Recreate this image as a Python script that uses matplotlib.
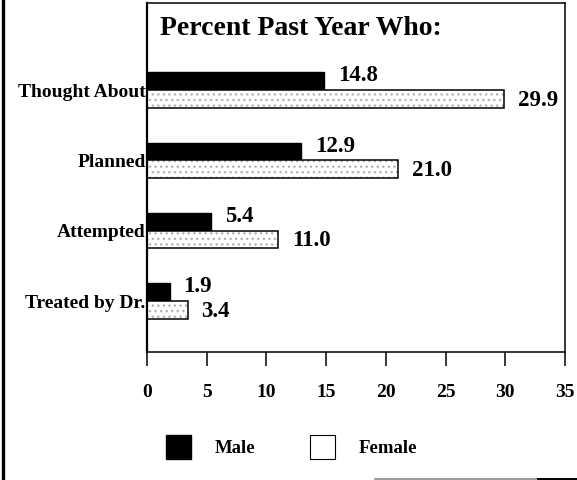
import matplotlib
matplotlib.use("Agg")
import matplotlib.pyplot as plt
from matplotlib.patches import Patch
from matplotlib.lines import Line2D

# data
categories = ["Thought About", "Planned", "Attempted", "Treated by Dr."]
male = [14.8, 12.9, 5.4, 1.9]
female = [29.9, 21.0, 11.0, 3.4]
xticks = [0, 5, 10, 15, 20, 25, 30, 35]

plt.rcParams['font.family'] = ['Liberation Serif', 'DejaVu Serif']
plt.rcParams['font.weight'] = 'bold'

fig = plt.figure(figsize=(5.77, 4.80), dpi=100)
ax = fig.add_axes([147/577, 128/480, 418/577, 349/480])

pos = list(range(len(categories)))[::-1]   # top category first
h = 0.25

ax.barh(pos, male, height=h, align='edge', color='black', edgecolor='black', lw=1)
# female bars: stippled grey fill, then black outline on top
ax.barh([p - h for p in pos], female, height=h, align='edge',
        facecolor='white', edgecolor='#b4b4b4', hatch='...', lw=0)
ax.barh([p - h for p in pos], female, height=h, align='edge',
        facecolor='none', edgecolor='black', lw=1.1)

for p, m, f in zip(pos, male, female):
    ax.annotate(f"{m:.1f}", (m, p + h/2), xytext=(10, 4), textcoords='offset points',
                va='center', ha='left', fontsize=16.5, fontweight='bold')
    ax.annotate(f"{f:.1f}", (f, p - h/2), xytext=(10, -1), textcoords='offset points',
                va='center', ha='left', fontsize=16.5, fontweight='bold')

ax.set_xlim(0, 35)
ax.set_ylim(-0.725, 4.238)
ax.set_xticks(xticks)
ax.set_xticklabels([str(t) for t in xticks], fontsize=14, fontweight='bold')
ax.set_yticks(pos)
ax.set_yticklabels(categories, fontsize=14, fontweight='bold')
ax.tick_params(axis='x', direction='out', length=10, width=1.1, pad=13)
ax.tick_params(axis='y', length=0, pad=1)
for s in ax.spines.values():
    s.set_linewidth(1.1)
ax.spines['left'].set_linewidth(1.6)

ax.text(0.031, 0.908, "Percent Past Year Who:", transform=ax.transAxes,
        fontsize=20, fontweight='bold', va='baseline', ha='left')

handles = [Patch(facecolor='black', edgecolor='black', label='Male'),
           Patch(facecolor='white', edgecolor='black', lw=0.8, label='Female')]
fig.legend(handles=handles, loc='center left', bbox_to_anchor=(166/577, 33/480),
           ncol=2, frameon=False, fontsize=13.5, handlelength=1.35, handleheight=1.65,
           handletextpad=1.25, columnspacing=2.9, borderpad=0, borderaxespad=0)

# scan frame edges
fig.add_artist(Line2D([3/577, 3/577], [0, 1], color='black', lw=2.4))
fig.add_artist(Line2D([375/577, 538/577], [1.5/480, 1.5/480], color='#8a8a8a', lw=1.2))
fig.add_artist(Line2D([538/577, 1], [1.5/480, 1.5/480], color='black', lw=1.4))

fig.savefig("out.png", dpi=100)
